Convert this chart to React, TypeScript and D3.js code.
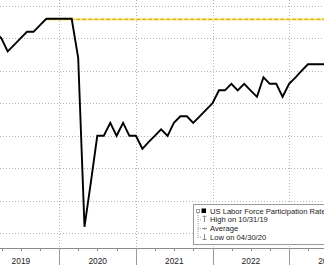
import React from "react";
import * as d3 from "d3";

const months: string[] = [
  "2019-02","2019-03","2019-04","2019-05","2019-06","2019-07","2019-08","2019-09","2019-10","2019-11","2019-12",
  "2020-01","2020-02","2020-03","2020-04","2020-05","2020-06","2020-07","2020-08","2020-09","2020-10","2020-11","2020-12",
  "2021-01","2021-02","2021-03","2021-04","2021-05","2021-06","2021-07","2021-08","2021-09","2021-10","2021-11","2021-12",
  "2022-01","2022-02","2022-03","2022-04","2022-05","2022-06","2022-07","2022-08","2022-09","2022-10","2022-11","2022-12",
  "2023-01","2023-02","2023-03","2023-04","2023-05","2023-06",
];
const participation: number[] = [
  63.1, 63.0, 62.8, 62.9, 63.0, 63.1, 63.1, 63.2, 63.3, 63.3, 63.3,
  63.3, 63.3, 62.7, 60.1, 60.8, 61.5, 61.5, 61.7, 61.5, 61.7, 61.5, 61.5,
  61.3, 61.4, 61.5, 61.6, 61.5, 61.7, 61.8, 61.8, 61.7, 61.8, 61.9, 62.0,
  62.2, 62.2, 62.3, 62.2, 62.3, 62.2, 62.1, 62.4, 62.3, 62.3, 62.1, 62.3,
  62.4, 62.5, 62.6, 62.6, 62.6, 62.6,
];
const highValue = 63.3;
const highDate = "2019-10";
const gridValues: number[] = [60.0, 60.5, 61.0, 61.5, 62.0, 62.5, 63.0, 63.5];
const yearLabels: number[] = [2019, 2020, 2021, 2022, 2023];
const legendLabels: string[] = [
  "US Labor Force Participation Rate SA",
  "High on 10/31/19",
  "Average",
  "Low on 04/30/20",
];

const W = 324;
const H = 265;
const AXIS_Y = 248;
const FONT = "'Liberation Sans Narrow', 'Liberation Sans', Arial, sans-serif";

function monthEnd(s: string): Date {
  const [y, m] = s.split("-").map(Number);
  return new Date(y, m, 0);
}

export default function App() {
  const x = d3
    .scaleTime()
    .domain([new Date(2020, 0, 1), new Date(2023, 0, 1)])
    .range([59.3, 289.3]);
  const y = d3.scaleLinear().domain([60, 63]).range([233.3, 38.3]);

  const pts: [Date, number][] = months.map((m, i) => [monthEnd(m), participation[i]]);
  const line = d3
    .line<[Date, number]>()
    .x((d) => x(d[0]))
    .y((d) => y(d[1]));

  const yearStarts = yearLabels.map((yr) => new Date(yr, 0, 1));
  const quarterTicks = d3.timeMonth.every(3)!.range(new Date(2019, 0, 1), new Date(2024, 0, 1));

  const hx = x(monthEnd(highDate));
  const hy = y(highValue);

  const lx = 193;
  const ly = 204;
  const rowY = [213.5, 222.3, 231.1, 239.9];

  return (
    <svg
      width={W}
      height={H}
      style={{ position: "fixed", left: 0, top: 0, background: "#fff" }}
      fontFamily={FONT}
    >
      <rect x={0} y={0} width={W} height={H} fill="#fff" />
      {gridValues.map((v) => (
        <line
          key={"h" + v}
          x1={0}
          x2={W}
          y1={Math.round(y(v)) + 0.5}
          y2={Math.round(y(v)) + 0.5}
          stroke="#b4b4b4"
          strokeWidth={1}
          strokeDasharray="1,2"
        />
      ))}
      {yearStarts.map((d, i) => (
        <line
          key={"v" + i}
          x1={Math.round(x(d)) + 0.5}
          x2={Math.round(x(d)) + 0.5}
          y1={0}
          y2={AXIS_Y}
          stroke="#b4b4b4"
          strokeWidth={1}
          strokeDasharray="1,2"
        />
      ))}
      <line x1={hx} x2={W} y1={hy + 0.5} y2={hy + 0.5} stroke="#f6efb4" strokeWidth={3} />
      <line
        x1={hx}
        x2={W}
        y1={hy + 0.5}
        y2={hy + 0.5}
        stroke="#deb000"
        strokeWidth={1.3}
        strokeDasharray="4,2"
      />
      <path
        d={line(pts) || ""}
        fill="none"
        stroke="#000"
        strokeWidth={1.9}
        strokeLinejoin="miter"
        strokeMiterlimit={4}
      />
      <rect x={lx + 0.5} y={ly + 0.5} width={W} height={40} fill="#fff" stroke="#9a9a9a" strokeWidth={1} />
      <rect x={196.5} y={209.5} width={3} height={3} fill="#fff" stroke="#9a9a9a" strokeWidth={1} />
      <rect x={201.5} y={208.5} width={4.5} height={4.5} fill="#000" />
      <line x1={198} x2={198} y1={213} y2={238} stroke="#a0a0a0" strokeWidth={1} strokeDasharray="1,1" />
      {[222.3, 231.1, 239.9].map((ry, i) => (
        <line key={"tb" + i} x1={198} x2={201} y1={ry - 2.5} y2={ry - 2.5} stroke="#a0a0a0" strokeWidth={1} strokeDasharray="1,1" />
      ))}
      <line x1={202.5} x2={206.5} y1={216.3} y2={216.3} stroke="#8a8a8a" strokeWidth={1} />
      <line x1={204.5} x2={204.5} y1={216.3} y2={222} stroke="#8a8a8a" strokeWidth={1} />
      <line x1={202} x2={207} y1={228.6} y2={228.6} stroke="#8a8a8a" strokeWidth={1} />
      <circle cx={204.5} cy={228.6} r={1} fill="#8a8a8a" />
      <line x1={204.5} x2={204.5} y1={234} y2={239.5} stroke="#8a8a8a" strokeWidth={1} />
      <line x1={202.5} x2={206.5} y1={239.5} y2={239.5} stroke="#8a8a8a" strokeWidth={1} />
      {legendLabels.map((t, i) => (
        <text key={"lg" + i} x={210} y={rowY[i]} fontSize={7.6} fill="#1a1a1a">
          {t}
        </text>
      ))}
      <line x1={0} x2={W} y1={AXIS_Y + 0.5} y2={AXIS_Y + 0.5} stroke="#8c8c8c" strokeWidth={1} />
      {quarterTicks.map((d, i) => (
        <line
          key={"q" + i}
          x1={Math.round(x(d)) + 0.5}
          x2={Math.round(x(d)) + 0.5}
          y1={AXIS_Y}
          y2={AXIS_Y + 3}
          stroke="#8c8c8c"
          strokeWidth={1}
        />
      ))}
      {yearStarts.map((d, i) => (
        <line
          key={"ys" + i}
          x1={Math.round(x(d)) + 0.5}
          x2={Math.round(x(d)) + 0.5}
          y1={AXIS_Y}
          y2={H}
          stroke="#9a9a9a"
          strokeWidth={1}
        />
      ))}
      {yearLabels.map((yr) => (
        <text
          key={"yl" + yr}
          x={x(new Date(yr, 6, 2))}
          y={263.5}
          fontSize={8.4}
          textAnchor="middle"
          fill="#222"
        >
          {yr}
        </text>
      ))}
    </svg>
  );
}
